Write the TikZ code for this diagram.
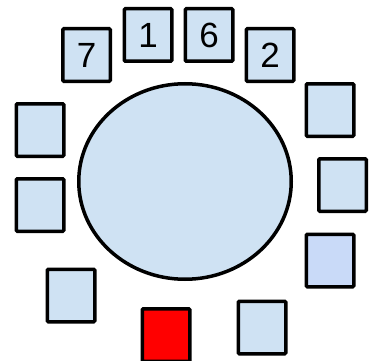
\documentclass[tikz,border=0pt]{standalone}
\usepackage{fontspec}
\setmainfont{Liberation Sans}
\definecolor{seat}{HTML}{CFE2F3}
\definecolor{seatb}{HTML}{C9DAF8}
\definecolor{seatred}{HTML}{FF0000}
\begin{document}
\begin{tikzpicture}[x=1pt,y=-1pt,
  seatbox/.style={draw=black,line width=3.5pt,fill=seat,rounded corners=1pt,
    minimum width=47.5pt,minimum height=52.5pt,inner sep=0pt,
    font=\fontsize{35}{35}\selectfont}]
\useasboundingbox (0,0) rectangle (388,361);
\clip (0,0) rectangle (388,361);
\fill[seat,draw=black,line width=3.5pt] (185,181.5) ellipse [x radius=106.25, y radius=97.75];
\node[seatbox] (s7) at (86.5,55) {7};
\node[seatbox] (s1) at (148,35) {1};
\node[seatbox] (s6) at (209,35) {6};
\node[seatbox] (s2) at (270,55) {2};
\node[seatbox] (sr1) at (330,110) {};
\node[seatbox] (sl1) at (40,130) {};
\node[seatbox] (sr2) at (342.5,185) {};
\node[seatbox] (sl2) at (40,205) {};
\node[seatbox,fill=seatb] (sr3) at (330,260.5) {};
\node[seatbox] (sl3) at (71,295.5) {};
\node[seatbox,fill=seatred] (sred) at (166,335) {};
\node[seatbox] (sbr) at (262,327.5) {};
\end{tikzpicture}
\end{document}
